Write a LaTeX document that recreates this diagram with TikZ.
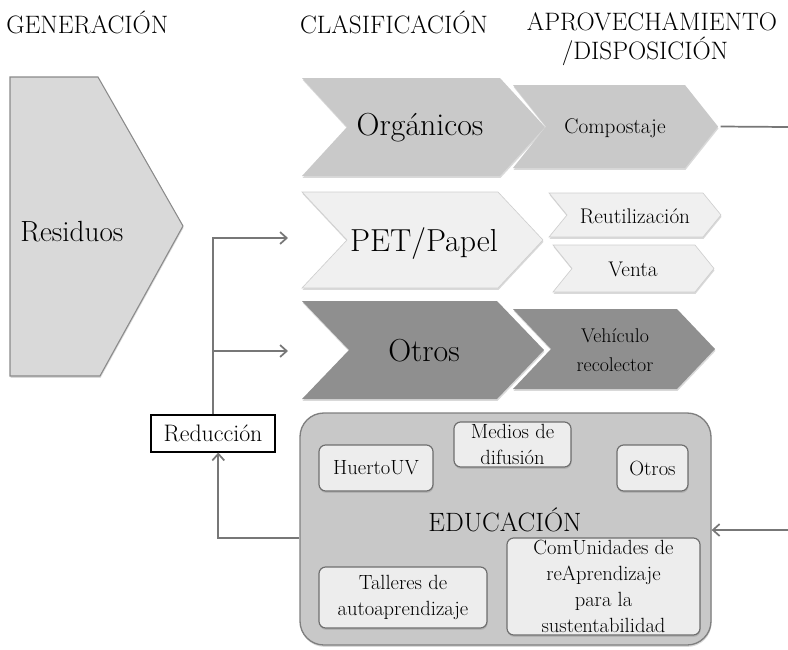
\documentclass[tikz,border=0pt]{standalone}
\usetikzlibrary{arrows.meta,shadows,calc}
\definecolor{linegray}{HTML}{777777}
\definecolor{resfill}{HTML}{D9D9D9}
\definecolor{resline}{HTML}{8A8A8A}
\definecolor{midfill}{HTML}{C9C9C9}
\definecolor{litefill}{HTML}{F0F0F0}
\definecolor{liteline}{HTML}{CFCFCF}
\definecolor{darkfill}{HTML}{8F8F8F}
\definecolor{edufill}{HTML}{C8C8C8}
\definecolor{eduline}{HTML}{7F7F7F}
\definecolor{boxfill}{HTML}{EDEDED}
\definecolor{boxline}{HTML}{6F6F6F}
\newlength{\pxu}\setlength{\pxu}{0.0265cm}
% name, left, right, top, bottom, depth, style
\newcommand{\chev}[7]{%
  \path[#7] (#2,#4) -- (#3,#4) -- ({#3+#6},{(#4+#5)/2}) -- (#3,#5) -- (#2,#5)
    -- ({#2+#6},{(#4+#5)/2}) -- cycle;
  \coordinate (#1tip) at ({#3+#6},{(#4+#5)/2});
}
\tikzset{
  head/.style={font=\fontsize{19}{22}\selectfont},
  big/.style={font=\fontsize{24}{28}\selectfont},
  mid/.style={font=\fontsize{16}{20}\selectfont,align=center},
  chshadow/.style={drop shadow={opacity=0.3,shadow xshift=0.4pt,shadow yshift=-1.4pt}},
  infobox/.style={draw=boxline,fill=boxfill,line width=0.9pt,rounded corners=5pt,
    inner sep=0pt,align=center,font=\fontsize{15.5}{19.5}\selectfont,chshadow},
  flow/.style={draw=linegray,line width=1.3pt,-{Straight Barb[length=5pt,width=9pt]}},
  plain/.style={draw=linegray,line width=1.3pt}
}
\begin{document}
\begin{tikzpicture}[x=0.0265cm,y=-0.0265cm]
  \useasboundingbox (0,0) rectangle (788,649);
  % headers
  \node[head,anchor=west,inner sep=0pt] (gen) at (6,22) {GENERACIÓN};
  \node[head] (clas) at (394,22) {CLASIFICACIÓN};
  \node[head] (aprov) at (652,22) {APROVECHAMIENTO};
  \node[head] (disp) at (645,51) {/DISPOSICIÓN};
  %
  \path[draw=resline,fill=resfill,line width=0.8pt,chshadow]
    (10,77) -- (98,77) -- (183,226) -- (100,376) -- (10,376) -- cycle;
  \node[font=\fontsize{22}{26}\selectfont,anchor=west,inner sep=0pt] (residuos) at (20,232) {Residuos};
  %
  \chev{organicos}{302}{500}{78}{176}{45}{fill=midfill,chshadow}
  \chev{compostaje}{513}{685}{85}{168}{33}{fill=midfill,chshadow}
  \chev{pet}{302}{498}{192}{288}{45}{fill=litefill,draw=liteline,line width=0.5pt,chshadow}
  \chev{reutil}{549}{703}{193}{237}{18}{fill=litefill,draw=liteline,line width=0.5pt,chshadow}
  \chev{venta}{553}{695}{245}{292}{19}{fill=litefill,draw=liteline,line width=0.5pt,chshadow}
  \chev{otros}{302}{497}{301}{399}{47}{fill=darkfill,chshadow}
  \chev{vehiculo}{513}{677}{309}{389}{38}{fill=darkfill,chshadow}
  \node[big] (organicostxt) at (420,128) {Orgánicos};
  \node[mid] (compostajetxt) at (615,128) {Compostaje};
  \node[big] (pettxt) at (424,244) {PET/Papel};
  \node[mid] (reutiltxt) at (635,216) {Reutilización};
  \node[mid] (ventatxt) at (633,269) {Venta};
  \node[big] (otrostxt) at (424,351) {Otros};
  \node[mid,font=\fontsize{15}{21.5}\selectfont] (vehiculotxt) at (615,350) {Vehículo\\recolector};
  %
  \node[draw=black,line width=0.8pt,fill=white,font=\fontsize{18}{21}\selectfont,inner sep=0pt,
    minimum width=124\pxu,minimum height=37\pxu] (reduccion) at (213,433.5) {Reducción};
  \node[draw=eduline,fill=edufill,line width=1pt,rounded corners=18pt,
    minimum width=411\pxu,minimum height=232\pxu,chshadow] (educ) at (505.5,529) {};
  \node[font=\fontsize{20}{24}\selectfont] (educacion) at (505,520) {EDUCACIÓN};
  \node[infobox,minimum width=114\pxu,minimum height=46\pxu] (huerto) at (376,468) {HuertoUV};
  \node[infobox,minimum width=117\pxu,minimum height=45\pxu] (medios) at (512.5,444.5) {Medios de\\difusión};
  \node[infobox,minimum width=71\pxu,minimum height=46\pxu] (otrosedu) at (652.5,468) {Otros};
  \node[infobox,minimum width=168\pxu,minimum height=61\pxu] (talleres) at (403,597.5) {Talleres de\\autoaprendizaje};
  \node[infobox,minimum width=193\pxu,minimum height=97\pxu] (comunidades) at (603.5,586.5)
    {ComUnidades de\\reAprendizaje\\para la\\sustentabilidad};
  %
  \coordinate (petin) at (288,238);
  \coordinate (otrosin) at (288,351);
  \coordinate (eduin) at (788,530);
  \coordinate (compout) at (788,127);
  \draw[flow] (reduccion.north) |- (petin);
  \draw[flow] (reduccion.north |- otrosin) -- (otrosin);
  \draw[flow] (educ.west |- 0,538) -| ([xshift=4pt]reduccion.south);
  \draw[flow] (eduin) -- (educ.east |- eduin);
  \draw[plain] ([xshift=2pt]compostajetip) -- (compout);
\end{tikzpicture}
\end{document}
